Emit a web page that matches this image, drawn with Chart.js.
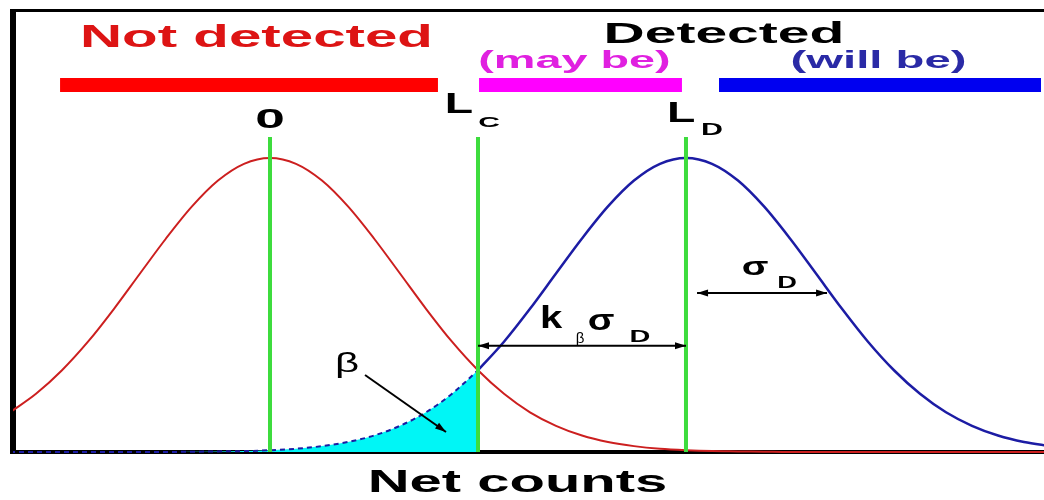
<!DOCTYPE html>
<html>
<head>
<meta charset="utf-8">
<script src="https://cdn.jsdelivr.net/npm/chart.js@4.4.1/dist/chart.umd.min.js"></script>
<style>
html,body{margin:0;padding:0;background:#fff;}
#wrap{width:1044px;height:500px;position:relative;}
</style>
</head>
<body>
<div id="wrap"><canvas id="detCanvas"></canvas></div>
<script>
(function(){
'use strict';

// net counts in units of sigma (blank centred at 0)
var NET_COUNTS = [-2.0,-1.8,-1.6,-1.4,-1.2,-1.0,-0.8,-0.6,-0.4,-0.2,
  0.0,0.2,0.4,0.6,0.8,1.0,1.2,1.4,1.6,1.8,
  2.0,2.2,2.4,2.6,2.8,3.0,3.2,3.4,3.6,3.8,
  4.0,4.2,4.4,4.6,4.8,5.0,5.2,5.4,5.6,5.8,6.0];

// blank distribution (red), relative height
var BLANK = [0.135,0.198,0.278,0.375,0.487,0.607,0.726,0.835,0.923,0.980,
  1.000,0.980,0.923,0.835,0.726,0.607,0.487,0.375,0.278,0.198,
  0.135,0.089,0.056,0.034,0.020,0.011,0.006,0.003,0.002,0.001,
  0,0,0,0,0,0,0,0,0,0,0];

// distribution at the detection limit (blue)
var AT_LD = [0,0,0,0,0,0,0,0.001,0.002,0.003,
  0.006,0.011,0.020,0.034,0.056,0.089,0.135,0.198,0.278,0.375,
  0.487,0.607,0.726,0.835,0.923,0.980,1.000,0.980,0.923,0.835,
  0.726,0.607,0.487,0.375,0.278,0.198,0.135,0.089,0.056,0.034,0.020];

var L_C = 1.6;
var L_D = 3.2;
var MARKERS = [0, L_C, L_D];
var MARKER_TOP = 1.071;

// decision bands along the top
var BAND_NAMES = ['Not detected', 'may be', 'will be'];
var BAND_FROM = [-1.615, 1.608, 3.454];
var BAND_TO = [1.292, 3.169, 5.931];
var BAND_LEVEL = 1.248;
var BAND_COLORS = ['#ff0000', '#ff00ff', '#0000f0'];

var RED = '#cc1f1f';
var BLUE = '#1c1ca4';
var GREEN = '#3ddc3d';
var FONT = '"Liberation Sans", Arial, sans-serif';

function pts(xs, ys, from, to) {
  var out = [];
  for (var i = from; i <= to; i++) out.push({x: xs[i], y: ys[i]});
  return out;
}

var cutIdx = NET_COUNTS.indexOf(L_C);
var datasets = [];

MARKERS.forEach(function(m){
  datasets.push({data:[{x:m,y:0},{x:m,y:MARKER_TOP}], borderColor:GREEN, borderWidth:4,
    pointRadius:0, order:0, borderCapStyle:'butt'});
});

BAND_NAMES.forEach(function(n, i){
  datasets.push({label:n, data:[{x:BAND_FROM[i],y:BAND_LEVEL},{x:BAND_TO[i],y:BAND_LEVEL}],
    borderColor:BAND_COLORS[i], borderWidth:14, borderCapStyle:'butt', pointRadius:0, order:0});
});

datasets.push({label:'blank', data:pts(NET_COUNTS, BLANK, 0, NET_COUNTS.length-1),
  borderColor:RED, borderWidth:2, pointRadius:0, cubicInterpolationMode:'monotone', order:1});
datasets.push({label:'at L_D', data:pts(NET_COUNTS, AT_LD, cutIdx, NET_COUNTS.length-1),
  borderColor:BLUE, borderWidth:2.5, pointRadius:0, cubicInterpolationMode:'monotone', order:1});
datasets.push({label:'beta', data:pts(NET_COUNTS, AT_LD, 0, cutIdx),
  borderColor:BLUE, borderWidth:2, borderDash:[5,4], backgroundColor:'#00f6f6', fill:'origin',
  pointRadius:0, cubicInterpolationMode:'monotone', order:2});

// texts: [text, x, y, font, colour, horizontal stretch]
var TEXTS = [
  ['Not detected', -0.104, 1.378, 'bold 31px', '#dd1414', 1.88],
  ['Detected', 3.492, 1.391, 'bold 30px', '#000', 1.9],
  ['(may be)', 2.342, 1.306, 'bold 24px', '#e020e0', 1.95],
  ['(will be)', 4.681, 1.306, 'bold 24px', '#2a2aa6', 1.97],
  ['0', 0, 1.102, 'bold 28px', '#000', 1.9],
  ['L', 1.454, 1.153, 'bold 29px', '#000', 1.6],
  ['C', 1.685, 1.105, 'bold 15px', '#000', 2.0],
  ['L', 3.162, 1.122, 'bold 29px', '#000', 1.6],
  ['D', 3.40, 1.078, 'bold 16px', '#000', 1.9],
  ['k', 2.162, 0.422, 'bold 32px', '#000', 1.25],
  ['\u03B2', 2.385, 0.371, '15px', '#000', 1.0],
  ['\u03C3', 2.546, 0.415, 'bold 30px', '#000', 1.3],
  ['D', 2.846, 0.374, 'bold 17px', '#000', 1.7],
  ['\u03C3', 3.731, 0.602, 'bold 26px', '#000', 1.5],
  ['D', 3.977, 0.558, 'bold 16px', '#000', 1.7],
  ['\u03B2', 0.592, 0.272, '28px', '#000', 1.5],
  ['Net counts', 1.904, -0.136, 'bold 31px', '#000', 1.87]
];

// arrows: [x1, y1, x2, y2, heads at both ends]
var ARROWS = [
  [L_C, 0.361, L_D, 0.361, true],
  [3.285, 0.541, 4.285, 0.541, true],
  [0.731, 0.262, 1.354, 0.068, false]
];

function head(ctx, x, y, ang) {
  ctx.save();
  ctx.translate(x, y);
  ctx.rotate(ang);
  ctx.beginPath();
  ctx.moveTo(0, 0);
  ctx.lineTo(-11, -3.5);
  ctx.lineTo(-11, 3.5);
  ctx.closePath();
  ctx.fill();
  ctx.restore();
}

var framePlugin = {
  id: 'frame',
  beforeDatasetsDraw: function(chart){
    var ctx = chart.ctx, a = chart.chartArea;
    ctx.save();
    ctx.fillStyle = '#000';
    ctx.fillRect(a.left-3, a.top-1, a.right-a.left+3, 3);
    ctx.fillRect(a.left-3, a.top-1, 6, a.bottom-a.top+3);
    ctx.fillRect(a.left-3, a.bottom-2, a.right-a.left+3, 4);
    ctx.restore();
  },
  afterDatasetsDraw: function(chart){
    var ctx = chart.ctx, sx = chart.scales.x, sy = chart.scales.y;
    ctx.save();
    ctx.strokeStyle = '#000';
    ctx.fillStyle = '#000';
    ctx.lineWidth = 2;
    ARROWS.forEach(function(r){
      var x1 = sx.getPixelForValue(r[0]), y1 = sy.getPixelForValue(r[1]);
      var x2 = sx.getPixelForValue(r[2]), y2 = sy.getPixelForValue(r[3]);
      var ang = Math.atan2(y2-y1, x2-x1);
      ctx.beginPath();
      ctx.moveTo(x1, y1);
      ctx.lineTo(x2, y2);
      ctx.stroke();
      head(ctx, x2, y2, ang);
      if (r[4]) head(ctx, x1, y1, ang+Math.PI);
    });
    TEXTS.forEach(function(t){
      ctx.save();
      ctx.translate(sx.getPixelForValue(t[1]), sy.getPixelForValue(t[2]));
      ctx.scale(t[5], 1);
      ctx.font = t[3]+' '+FONT;
      ctx.fillStyle = t[4];
      ctx.textAlign = 'center';
      ctx.textBaseline = 'alphabetic';
      ctx.fillText(t[0], 0, 0);
      ctx.restore();
    });
    ctx.restore();
  }
};

new Chart(document.getElementById('detCanvas').getContext('2d'), {
  type: 'line',
  data: {datasets: datasets},
  options: {
    responsive: true,
    maintainAspectRatio: false,
    animation: false,
    events: [],
    layout: {padding: {left:13, right:0, top:10, bottom:48}},
    elements: {line: {clip: {left:0, top:false, right:0, bottom:4}}},
    datasets: {line: {clip: {left:0, top:false, right:0, bottom:4}}},
    scales: {
      x: {type:'linear', min:-1.977, max:5.954, display:false},
      y: {min:0, max:1.503, display:false}
    },
    plugins: {legend:{display:false}, tooltip:{enabled:false}}
  },
  plugins: [framePlugin]
});

})();
</script>
</body>
</html>
